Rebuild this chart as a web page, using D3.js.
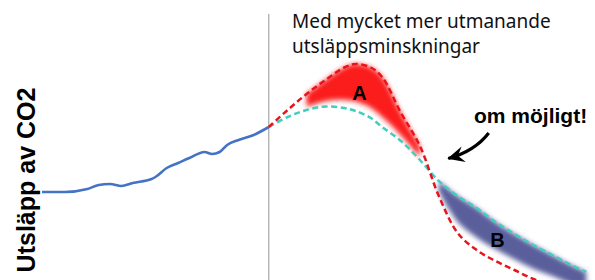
<!DOCTYPE html>
<html>
<head>
<meta charset="utf-8">
<script src="https://cdn.jsdelivr.net/npm/d3@7"></script>
<style>
  body { margin: 0; background: #fff; }
  svg { display: block; }
</style>
</head>
<body>
<div id="chart"></div>
<script>
// historical emissions (blue line)
var histYears = [1960, 1966, 1972, 1975, 1978, 1981, 1984, 1989, 1990, 1993, 1996, 1999, 2003, 2005, 2007, 2009, 2012, 2016, 2020];
var histVals  = [39.2, 39.2, 40.4, 42.0, 42.4, 41.6, 42.8, 44.4, 45.2, 48.8, 50.8, 52.8, 55.2, 54.4, 55.2, 58.0, 60.0, 62.0, 65.2];

// future scenarios
var futYears = [2020, 2025, 2030, 2035, 2040, 2043, 2047, 2050, 2055, 2060, 2065, 2070, 2075, 2080, 2085, 2090, 2095, 2100, 2104];
var highVals = [65.2, 72.0, 78.4, 84.0, 89.0, 90.4, 89.0, 85.2, 70.8, 57.6, 37.6, 22.8, 16.0, 11.6, 8.0, 4.4, 2.0, -0.8, -3.2];
var lowVals  = [65.2, 69.2, 72.0, 73.4, 72.8, 71.6, 68.8, 65.2, 59.6, 52.0, 43.6, 37.6, 32.8, 27.2, 22.4, 18.0, 14.0, 10.0, 7.2];

// texts
var titleLines = ["Med mycket mer utmanande", "utsläppsminskningar"];
var yLabel = "Utsläpp av CO2";
var noteText = "om möjligt!";

var width = 595, height = 280;

var svg = d3.select("#chart")
  .append("svg")
    .attr("width", width)
    .attr("height", height);

var x = d3.scaleLinear().domain([1960, 2105]).range([42, 590]);
var y = d3.scaleLinear().domain([0, 100]).range([290, 40]);

var hist = histYears.map(function(d, i) { return {year: d, v: histVals[i]}; });
var fut = futYears.map(function(d, i) { return {year: d, hi: highVals[i], lo: lowVals[i]}; });

var defs = svg.append("defs");
defs.append("filter")
    .attr("id", "soft")
    .attr("x", "-20%").attr("y", "-20%")
    .attr("width", "140%").attr("height", "140%")
  .append("feGaussianBlur")
    .attr("stdDeviation", 2.8);

defs.append("marker")
    .attr("id", "head")
    .attr("markerUnits", "userSpaceOnUse")
    .attr("viewBox", "-18 -10 20 20")
    .attr("markerWidth", 20)
    .attr("markerHeight", 20)
    .attr("refX", 0)
    .attr("refY", 0)
    .attr("orient", "auto")
  .append("path")
    .attr("d", "M1,0 L-16,-8 L-10,0 L-16,8 Z")
    .attr("fill", "#000");

var curve = d3.curveCatmullRom.alpha(0.5);

// today line
svg.append("line")
    .attr("x1", x(2020)).attr("x2", x(2020))
    .attr("y1", 14).attr("y2", height)
    .attr("stroke", "#a6a6a6")
    .attr("stroke-width", 1.2);

// area A (red, between high and low before crossing)
var areaA = d3.area()
    .x(function(d) { return x(d.year); })
    .y0(function(d) { return y(d.lo + 0.2 * (d.hi - d.lo)); })
    .y1(function(d) { return y(d.hi); })
    .curve(curve);

svg.append("path")
    .datum(fut.filter(function(d) { return d.year >= 2030 && d.year <= 2060; }))
    .attr("d", areaA)
    .attr("fill", "#fb1d1d")
    .attr("filter", "url(#soft)");

// area B (blue, after crossing)
var areaB = d3.area()
    .x(function(d) { return x(d.year); })
    .y0(function(d) { return y(d.hi + 0.3 * (d.lo - d.hi)); })
    .y1(function(d) { return y(d.lo); })
    .curve(curve);

svg.append("path")
    .datum(fut.filter(function(d) { return d.year >= 2065; }))
    .attr("d", areaB)
    .attr("fill", "#5a5e9c")
    .attr("filter", "url(#soft)");

// lines
var histLine = d3.line()
    .x(function(d) { return x(d.year); })
    .y(function(d) { return y(d.v); })
    .curve(d3.curveMonotoneX);

svg.append("path")
    .datum(hist)
    .attr("d", histLine)
    .attr("fill", "none")
    .attr("stroke", "#4472c4")
    .attr("stroke-width", 2.6);

var loLine = d3.line()
    .x(function(d) { return x(d.year); })
    .y(function(d) { return y(d.lo); })
    .curve(curve);

var hiLine = d3.line()
    .x(function(d) { return x(d.year); })
    .y(function(d) { return y(d.hi); })
    .curve(curve);

svg.append("path")
    .datum(fut)
    .attr("d", loLine)
    .attr("fill", "none")
    .attr("stroke", "#3fcfbf")
    .attr("stroke-width", 2.5)
    .attr("stroke-dasharray", "6,3.5");

svg.append("path")
    .datum(fut)
    .attr("d", hiLine)
    .attr("fill", "none")
    .attr("stroke", "#e8141c")
    .attr("stroke-width", 2.5)
    .attr("stroke-dasharray", "6,3.5");

// labels A and B
svg.append("text")
    .attr("x", x(2044)).attr("y", y(76))
    .attr("text-anchor", "middle")
    .style("font-family", "'Liberation Sans', Arial, sans-serif")
    .style("font-weight", "bold")
    .style("font-size", "20px")
    .text("A");

svg.append("text")
    .attr("x", x(2080.5)).attr("y", y(17.2))
    .attr("text-anchor", "middle")
    .style("font-family", "'Liberation Sans', Arial, sans-serif")
    .style("font-weight", "bold")
    .style("font-size", "20px")
    .text("B");

// title
svg.append("text")
    .attr("x", 292)
    .style("font-family", "'Noto Sans', sans-serif")
    .style("font-size", "19px")
    .attr("fill", "#111")
    .selectAll("tspan")
    .data(titleLines).enter()
    .append("tspan")
      .attr("x", 292)
      .attr("y", function(d, i) { return 28 + i * 25; })
      .text(function(d) { return d; });

// y label
svg.append("text")
    .attr("transform", "translate(35,180) rotate(-90)")
    .attr("text-anchor", "middle")
    .style("font-family", "'Liberation Sans', Arial, sans-serif")
    .style("font-weight", "bold")
    .style("font-size", "25px")
    .text(yLabel);

// note + arrow
svg.append("text")
    .attr("x", 474).attr("y", 123)
    .style("font-family", "'Liberation Sans', Arial, sans-serif")
    .style("font-weight", "bold")
    .style("font-size", "21px")
    .text(noteText);

var p = d3.path();
p.moveTo(x(2078.2), y(62.8));
p.quadraticCurveTo(x(2074.5), y(55.5), x(2067.5), y(52.6));
svg.append("path")
    .attr("d", p.toString())
    .attr("fill", "none")
    .attr("stroke", "#000")
    .attr("stroke-width", 3.2)
    .attr("marker-end", "url(#head)");
</script>
</body>
</html>
